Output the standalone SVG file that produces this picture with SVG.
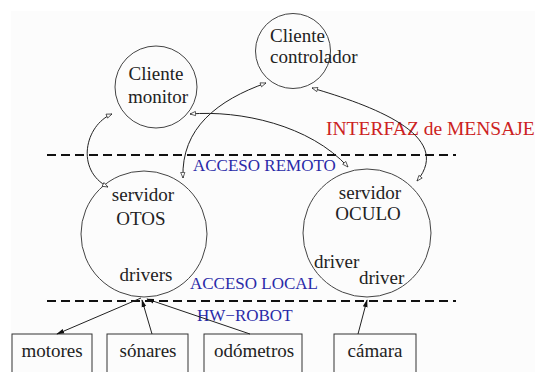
<svg xmlns="http://www.w3.org/2000/svg" width="535" height="372" viewBox="0 0 535 372">
<defs>
<marker id="open" viewBox="0 0 10 10" refX="9" refY="5" markerWidth="7" markerHeight="7" orient="auto-start-reverse" markerUnits="userSpaceOnUse">
<path d="M1,2 L9,5 L1,8 Z" fill="#fff" stroke="#222" stroke-width="1"/>
</marker>
<marker id="solid" viewBox="0 0 10 10" refX="9" refY="5" markerWidth="8" markerHeight="8" orient="auto" markerUnits="userSpaceOnUse">
<path d="M0,2 L10,5 L0,8 Z" fill="#111"/>
</marker>
<style>
.t{font-family:"Liberation Serif","Times New Roman",serif;font-size:19px;fill:#222}
.b{font-family:"Liberation Serif","Times New Roman",serif;font-size:17px;fill:#2a2aa8}
.r{font-family:"Liberation Serif","Times New Roman",serif;font-size:19.5px;fill:#cc2222}
.c{fill:none;stroke:#444;stroke-width:1}
.box{fill:none;stroke:#333;stroke-width:1}
.dash{stroke:#111;stroke-width:2;stroke-dasharray:9,5}
.cv{fill:none;stroke:#222;stroke-width:1;marker-start:url(#open);marker-end:url(#open)}
.ln{fill:none;stroke:#222;stroke-width:1;marker-end:url(#solid)}
</style>
</defs>
<rect width="535" height="372" fill="#fff"/>
<rect x="11" y="11" width="524" height="361" fill="#fcfcfc"/>

<g id="dashes">
<line class="dash" x1="47" y1="155" x2="456" y2="155"/>
<line class="dash" x1="47" y1="301" x2="456" y2="301"/>
</g>

<g id="labels">
<text class="r" x="326" y="135">INTERFAZ de MENSAJE</text>
<text class="b" x="193" y="171">ACCESO REMOTO</text>
<text class="b" x="190" y="289">ACCESO LOCAL</text>
<text class="b" x="197" y="321">HW−ROBOT</text>
</g>

<g id="cliente-monitor">
<circle class="c" cx="156" cy="87" r="41"/>
<text class="t" x="156" y="80" text-anchor="middle">Cliente</text>
<text class="t" x="158" y="103" text-anchor="middle">monitor</text>
</g>

<g id="cliente-controlador">
<circle class="c" cx="293" cy="51" r="37.5"/>
<text class="t" x="270" y="42">Cliente</text>
<text class="t" x="270" y="63">controlador</text>
</g>

<g id="servidor-otos">
<circle class="c" cx="144" cy="234" r="63"/>
<text class="t" x="143" y="201" text-anchor="middle">servidor</text>
<text class="t" x="141" y="225" text-anchor="middle">OTOS</text>
<text class="t" x="146" y="281" text-anchor="middle">drivers</text>
</g>

<g id="servidor-oculo">
<circle class="c" cx="367" cy="233" r="64"/>
<text class="t" x="370" y="199" text-anchor="middle">servidor</text>
<text class="t" x="368" y="220" text-anchor="middle">OCULO</text>
<text class="t" x="314" y="268">driver</text>
<text class="t" x="359" y="284">driver</text>
</g>

<g id="motores">
<rect class="box" x="12" y="334" width="80" height="50"/>
<text class="t" x="52" y="357" text-anchor="middle">motores</text>
</g>
<g id="sonares">
<rect class="box" x="107" y="334" width="81" height="50"/>
<text class="t" x="148" y="357" text-anchor="middle">sónares</text>
</g>
<g id="odometros">
<rect class="box" x="204" y="334" width="98" height="50"/>
<text class="t" x="254" y="357" text-anchor="middle">odómetros</text>
</g>
<g id="camara">
<rect class="box" x="334" y="334" width="82" height="50"/>
<text class="t" x="375" y="357" text-anchor="middle">cámara</text>
</g>

<g id="connectors">
<path class="cv" d="M112,114 C85,125 75,170 108,187"/>
<path class="cv" d="M183,178 C181,128 218,100 266,83"/>
<path class="cv" d="M190,114 C240,110 310,125 348,167"/>
<path class="cv" d="M312,88 C370,105 455,135 417,181"/>
<path class="ln" d="M141,298 L57,334"/>
<path class="ln" d="M152,334 L142,300"/>
<path class="ln" d="M250,334 L147,299"/>
<path class="ln" d="M358,334 L367,300"/>
</g>
</svg>
